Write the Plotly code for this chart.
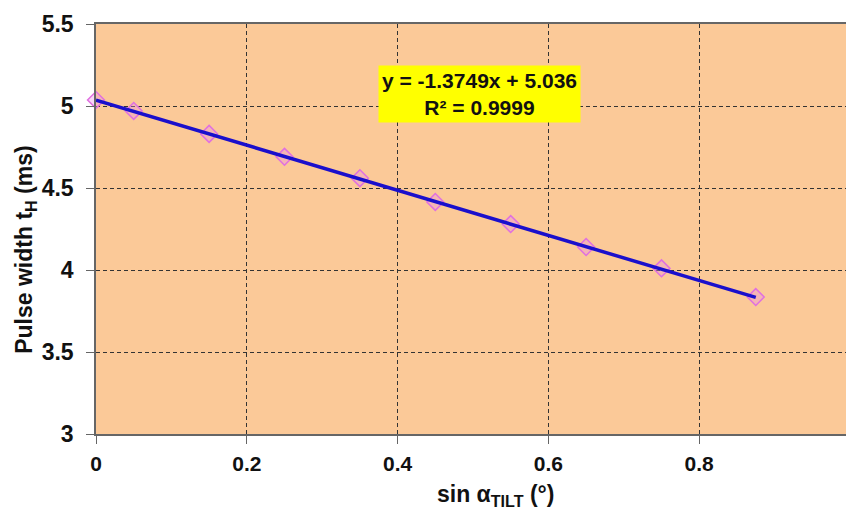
import plotly.graph_objects as go

sin_tilt = [0.0, 0.05, 0.15, 0.25, 0.35, 0.45, 0.55, 0.65, 0.75, 0.875]
pulse_width = [5.037, 4.97, 4.83, 4.69, 4.56, 4.415, 4.28, 4.14, 4.01, 3.835]
fit_slope = -1.3749
fit_intercept = 5.036
fit_r2 = 0.9999
x_ticks = [0, 0.2, 0.4, 0.6, 0.8, 1]
y_ticks = [3, 3.5, 4, 4.5, 5, 5.5]
x_title = "<b>sin α<sub>TILT</sub> (°)</b>"
y_title = "<b>Pulse width t<sub>H</sub> (ms)</b>"

fit_x = [min(sin_tilt), max(sin_tilt)]
fit_y = [fit_slope * v + fit_intercept for v in fit_x]

font_family = "Liberation Sans, Arial, sans-serif"

fig = go.Figure()
fig.add_trace(go.Scatter(
    x=sin_tilt, y=pulse_width, mode="markers",
    marker=dict(symbol="diamond", size=13, color="rgba(235,140,235,0.35)",
                line=dict(color="#E070E0", width=1.5)),
    showlegend=False, cliponaxis=False))
fig.add_trace(go.Scatter(
    x=fit_x, y=fit_y, mode="lines",
    line=dict(color="#1A0FCC", width=3.5),
    showlegend=False, cliponaxis=False))

fig.add_annotation(
    x=0.509, y=5.073, xref="x", yref="y",
    text=f"<b>y = {fit_slope}x + {fit_intercept}</b><br><b>R² = {fit_r2}</b>",
    showarrow=False, bgcolor="#FFFF00", borderpad=3,
    font=dict(family=font_family, size=21, color="#111111"), align="center")

# axis titles (placed as annotations, offset as in the reference)
fig.add_annotation(x=0.53, y=-0.15, xref="paper", yref="paper", text=x_title,
                   showarrow=False, xanchor="center", yanchor="middle",
                   font=dict(family=font_family, size=23, color="#111111"))
fig.add_annotation(x=-0.093, y=0.449, xref="paper", yref="paper", text=y_title,
                   showarrow=False, xanchor="center", yanchor="middle", textangle=-90,
                   font=dict(family=font_family, size=23, color="#111111"))

axis_common = dict(
    showline=True, linecolor="#666666", linewidth=1.5, mirror=True,
    ticks="outside", ticklen=8, tickcolor="#666666",
    showgrid=True, gridcolor="#333333", griddash="4px,3px", gridwidth=1,
    zeroline=False, automargin=False,
)

fig.update_xaxes(range=[0, 1], tickvals=x_ticks, ticktext=[f"<b>{t:g}</b>" for t in x_ticks],
                 tickfont=dict(family=font_family, size=21, color="#111111"),
                 ticklabelstandoff=2, **axis_common)
fig.update_yaxes(range=[3, 5.5], tickvals=y_ticks, ticktext=[f"<b>{t:g}</b>" for t in y_ticks],
                 tickfont=dict(family=font_family, size=23, color="#111111"),
                 ticklabelstandoff=8, **axis_common)

# page adds an 8px body margin; compensate so the plot area lands where the reference has it
fig.update_layout(
    width=846, height=503,
    margin=dict(l=88, r=4, t=16, b=77),
    plot_bgcolor="#FBC998", paper_bgcolor="#FFFFFF",
)

fig.write_html("out.html")
